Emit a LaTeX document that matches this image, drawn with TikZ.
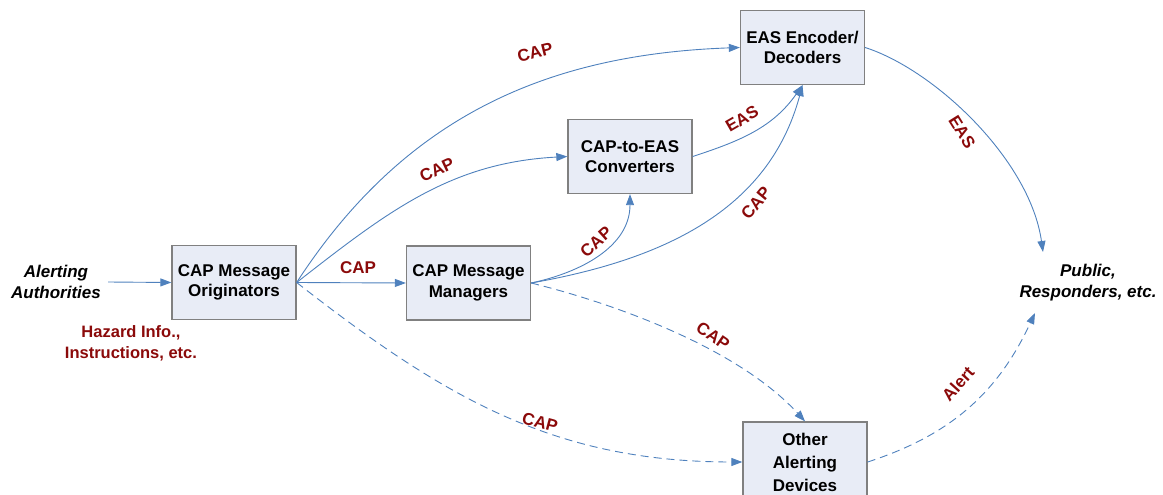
\documentclass[tikz,border=0pt]{standalone}
\usepackage{fontspec}
\setmainfont{Liberation Sans}
\usetikzlibrary{arrows.meta}
\definecolor{boxfill}{HTML}{E8ECF6}
\definecolor{boxline}{HTML}{808080}
\definecolor{flow}{HTML}{4F81BD}
\definecolor{lbl}{HTML}{8B0A0A}
\tikzset{
  box/.style={draw=boxline, line width=1.3pt, fill=boxfill, minimum width=124pt,
    minimum height=74pt, align=center, font=\fontsize{17}{20.5}\selectfont\bfseries, inner sep=2pt},
  ends/.style={align=center, font=\fontsize{17}{21}\selectfont\bfseries\itshape, inner sep=3pt},
  flowline/.style={draw=flow, line width=0.9pt, -{Triangle[length=11pt,width=8pt]}},
  optline/.style={flowline, dash pattern=on 8pt off 5pt},
  lab/.style={text=lbl, font=\fontsize{17}{19}\selectfont\bfseries, inner sep=1pt}
}
\begin{document}
\begin{tikzpicture}[x=1pt,y=-1pt]
\useasboundingbox (0,0) rectangle (1163,495);
\clip (0,0) rectangle (1163,495);

% boxes
\node[box] (orig) at (234,282.5) {CAP Message\\Originators};
\node[box] (mgr)  at (468.5,283) {CAP Message\\Managers};
\node[box] (conv) at (630,156.5) {CAP-to-EAS\\Converters};
\node[box] (enc)  at (802.5,47.5) {EAS Encoder/\\Decoders};
\node[box, minimum height=80pt, font=\fontsize{17}{23}\selectfont\bfseries] (other) at (805,462) {Other\\Alerting\\Devices};

% free text
\node[ends] (auth) at (56,282) {Alerting\\Authorities};
\node[ends] (pub)  at (1088,283) {Public,\\Responders, etc.};
\node[lab, align=center, font=\fontsize{16.5}{21}\selectfont\bfseries] (haz) at (131,343) {Hazard Info.,\\Instructions, etc.};
\coordinate (pubA) at (1043,252);
\coordinate (pubB) at (1035,313);

% connectors
\draw[flowline] ([xshift=4pt]auth.east) -- (orig.west);
\draw[flowline] (orig.east) -- (mgr.west);
\draw[flowline] (orig.east) to[out=38,in=183] (conv.west);
\draw[flowline] (orig.east) to[out=57,in=182] (enc.west);
\draw[optline]  (orig.east) to[out=-38,in=180] (other.west);
\draw[flowline] (mgr.east) to[out=12,in=-90] (conv.south);
\draw[flowline] (mgr.east) to[out=10,in=-105] (enc.south);
\draw[flowline] (conv.east) to[out=18,in=-125] (enc.south);
\draw[optline]  (mgr.east) .. controls (620,305) and (740,350) .. (other.north);
\draw[flowline] (enc.east) .. controls (935,70) and (1030,160) .. (pubA);
\draw[optline]  (other.east) to[out=18,in=-115] (pubB);

% labels
\node[lab] (l1) at (358,268) {CAP};
\node[lab, rotate=25] (l2) at (437,170) {CAP};
\node[lab, rotate=14] (l3) at (535,52) {CAP};
\node[lab, rotate=-15] (l4) at (540,422) {CAP};
\node[lab, rotate=42] (l5) at (596,242) {CAP};
\node[lab, rotate=30] (l6) at (742,119) {EAS};
\node[lab, rotate=50] (l7) at (756,203) {CAP};
\node[lab, rotate=-35] (l8) at (713,336) {CAP};
\node[lab, rotate=-58] (l9) at (962,132) {EAS};
\node[lab, rotate=48] (l10) at (958,384) {Alert};
\end{tikzpicture}
\end{document}
